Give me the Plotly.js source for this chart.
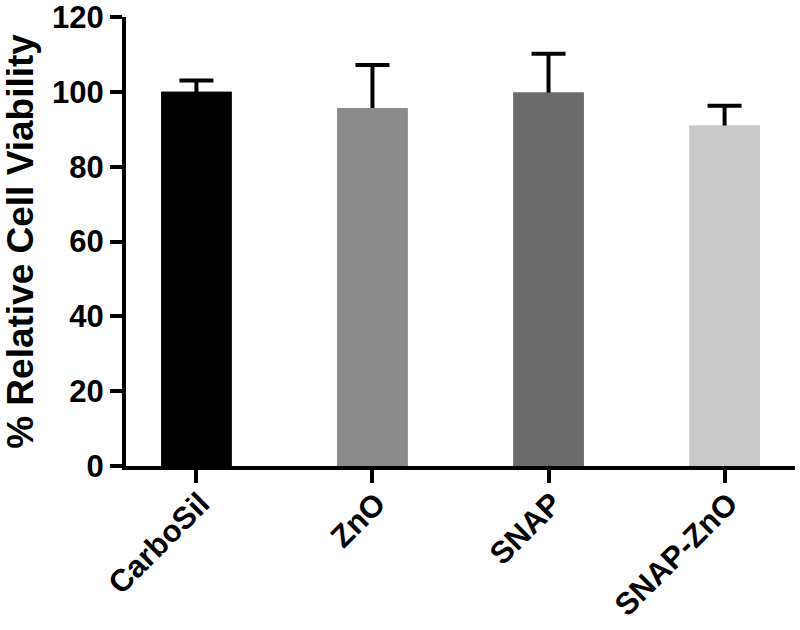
<!DOCTYPE html>
<html>
<head>
<meta charset="utf-8">
<script src="https://cdn.plot.ly/plotly-3.0.1.min.js"></script>
<style>html,body{margin:0;padding:0;background:#fff;}#chart{width:800px;height:630px;}</style>
</head>
<body>
<div id="chart"></div>
<script>
const categories = ["CarboSil", "ZnO", "SNAP", "SNAP-ZnO"];
const viability = [100.0, 95.7, 99.8, 91.0];
const errorUp = [3.0, 11.5, 10.4, 5.3];
const barColors = ["#000000", "#8b8b8b", "#6b6b6b", "#c9c9c9"];
const yTicks = [0, 20, 40, 60, 80, 100, 120];

const FONT = "Liberation Sans, Arial, Helvetica, sans-serif";

// Trace carrying the error bars (stem runs down into the bar, hidden by the overlay trace)
const errTrace = {
  type: "bar",
  x: categories,
  y: viability,
  marker: {color: barColors, line: {width: 0}},
  width: 0.4,
  error_y: {
    type: "data",
    symmetric: false,
    array: errorUp,
    arrayminus: viability,
    color: "#000000",
    thickness: 4,
    width: 17
  },
  hoverinfo: "skip",
  showlegend: false
};
const barTrace = {
  type: "bar",
  x: categories,
  y: viability,
  marker: {color: barColors, line: {width: 0}},
  width: 0.4,
  showlegend: false
};

const layout = {
  width: 800,
  height: 630,
  margin: {l: 126, r: 5, t: 17, b: 164, pad: 0},
  paper_bgcolor: "#ffffff",
  plot_bgcolor: "#ffffff",
  barmode: "overlay",
  showlegend: false,
  font: {family: FONT, color: "#000000", size: 28, weight: "bold"},
  xaxis: {
    type: "category",
    range: [-0.4, 3.4],
    showline: true,
    linewidth: 4,
    linecolor: "#000000",
    ticks: "outside",
    ticklen: 13,
    tickwidth: 4,
    tickcolor: "#000000",
    tickangle: -45,
    tickfont: {family: FONT, size: 31, color: "#000000", weight: "bold"},
    ticklabeloverflow: "allow",
    ticklabelstandoff: -10,
    ticklabelshift: 4,
    showgrid: false,
    zeroline: false,
    fixedrange: true
  },
  yaxis: {
    range: [0, 120],
    tickvals: yTicks,
    ticktext: yTicks.map(String),
    showline: true,
    linewidth: 4,
    linecolor: "#000000",
    ticks: "outside",
    ticklen: 12,
    tickwidth: 4,
    tickcolor: "#000000",
    tickfont: {family: FONT, size: 31, color: "#000000", weight: "bold"},
    ticklabeloverflow: "allow",
    showgrid: false,
    zeroline: false,
    fixedrange: true,
    title: {
      text: "% Relative Cell Viability",
      font: {family: FONT, size: 37, color: "#000000", weight: "bold"},
      standoff: 10
    }
  }
};

Plotly.newPlot("chart", [errTrace, barTrace], layout, {displayModeBar: false, staticPlot: true});
</script>
</body>
</html>
